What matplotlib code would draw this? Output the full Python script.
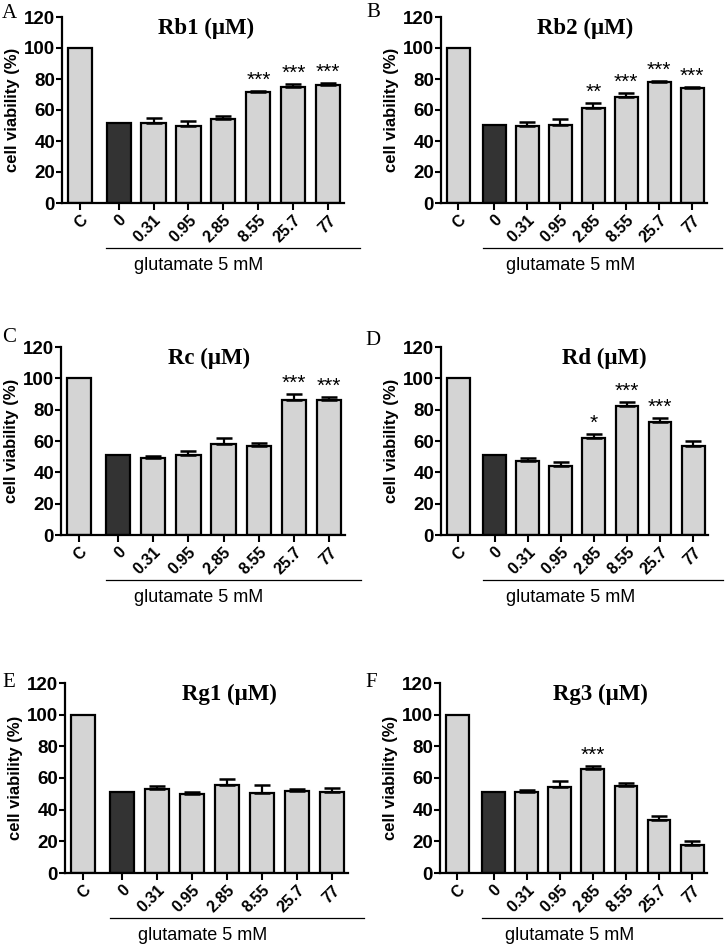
import matplotlib
matplotlib.use('Agg')
import matplotlib.pyplot as plt
import matplotlib.transforms as mtrans

# doses on the x axis (C = control, others with glutamate 5 mM)
doses = ['C', '0', '0.31', '0.95', '2.85', '8.55', '25.7', '77']
letters = ['A', 'B', 'C', 'D', 'E', 'F']
compounds = ['Rb1', 'Rb2', 'Rc', 'Rd', 'Rg1', 'Rg3']

# cell viability (%)
rb1_mean = [100, 51.4, 51.4, 49.7, 54.0, 71.4, 75.0, 76.0]
rb1_err = [0, 0, 3.2, 3.3, 2.4, 1.0, 1.7, 1.6]
rb1_sig = ['', '', '', '', '', '***', '***', '***']

rb2_mean = [100, 50.6, 50.0, 50.6, 61.4, 68.5, 78.2, 74.0]
rb2_err = [0, 0, 2.0, 3.4, 3.2, 2.5, 0.6, 0.8]
rb2_sig = ['', '', '', '', '**', '***', '***', '***']

rc_mean = [100, 51.0, 49.3, 51.0, 58.4, 57.0, 86.0, 86.0]
rc_err = [0, 0, 1.2, 2.7, 3.6, 1.5, 3.8, 2.0]
rc_sig = ['', '', '', '', '', '', '***', '***']

rd_mean = [100, 51.0, 47.4, 44.2, 61.6, 82.2, 72.2, 56.7]
rd_err = [0, 0, 1.9, 2.5, 2.8, 2.8, 2.6, 3.2]
rd_sig = ['', '', '', '', '*', '***', '***', '']

rg1_mean = [100, 51.4, 53.3, 49.7, 55.4, 50.8, 51.9, 51.4]
rg1_err = [0, 0, 1.7, 1.7, 3.9, 4.6, 1.4, 2.1]
rg1_sig = ['', '', '', '', '', '', '', '']

rg3_mean = [100, 51.4, 51.2, 54.4, 65.6, 55.0, 33.2, 18.0]
rg3_err = [0, 0, 1.3, 3.8, 1.7, 1.7, 2.8, 2.1]
rg3_sig = ['', '', '', '', '***', '', '', '']

means = [rb1_mean, rb2_mean, rc_mean, rd_mean, rg1_mean, rg3_mean]
errs = [rb1_err, rb2_err, rc_err, rd_err, rg1_err, rg3_err]
sigs = [rb1_sig, rb2_sig, rc_sig, rd_sig, rg1_sig, rg3_sig]

W, H = 727, 948
fig = plt.figure(figsize=(W / 100, H / 100), dpi=100)

sans = ['Liberation Sans', 'DejaVu Sans']
serif = ['Liberation Serif', 'DejaVu Serif']

# axes boxes in pixels: left, top, right, bottom
boxes = [(62, 17, 344, 203), (441, 17, 707, 203),
         (61, 347, 345, 535), (441, 347, 708, 535),
         (65, 683, 348, 873), (440, 683, 707, 873)]
letter_pos = [(2, 18), (366, 17), (2, 342), (365, 345), (2, 687), (365, 687)]
title_x = [0.51, 0.54, 0.52, 0.61, 0.58, 0.60]

xpos = [0] + [1.1 + i for i in range(7)]
colors = ['#d4d4d4', '#333333'] + ['#d4d4d4'] * 6

for k in range(6):
    l, t, r, b = boxes[k]
    ax = fig.add_axes([l / W, 1 - b / H, (r - l) / W, (b - t) / H])
    mean, err, sig = means[k], errs[k], sigs[k]

    ax.bar(xpos, mean, width=0.69, color=colors, edgecolor='black',
           linewidth=1.6, zorder=2)
    ex = [x for x, e in zip(xpos, err) if e > 0]
    ey = [m for m, e in zip(mean, err) if e > 0]
    ee = [e for e in err if e > 0]
    ax.errorbar(ex, ey, yerr=[[0] * len(ee), ee], fmt='none', ecolor='black',
                elinewidth=1.6, capsize=5.5, capthick=1.8, zorder=3)
    for x, m, e, s in zip(xpos, mean, err, sig):
        if s:
            ax.text(x, m + e + 0.8, s, ha='center', va='bottom',
                    fontsize=15, family=sans)

    ax.set_ylim(0, 120)
    ax.set_xlim(-0.52, 7.55)
    ax.set_yticks([0, 20, 40, 60, 80, 100, 120])
    ax.set_xticks(xpos)
    ax.set_xticklabels(doses, rotation=45, ha='right', rotation_mode='anchor',
                       fontsize=11.5, fontweight='bold', family=sans)
    for lab in ax.get_yticklabels():
        lab.set_fontsize(13.5)
        lab.set_fontweight('bold')
        lab.set_family(sans)
    ax.tick_params(axis='y', length=4, width=1.5, pad=1)
    ax.tick_params(axis='x', length=5, width=1.5, pad=2)
    for side in ['top', 'right']:
        ax.spines[side].set_visible(False)
    for side in ['left', 'bottom']:
        ax.spines[side].set_linewidth(1.6)

    ax.set_ylabel('cell viability (%)', fontsize=12, fontweight='bold',
                  family=sans)
    ax.yaxis.set_label_coords(-42 / (r - l), 0.5)

    ax.text(title_x[k], 0.94, compounds[k] + ' (\u03bcM)', transform=ax.transAxes,
            ha='center', va='center', fontsize=16.5, fontweight='bold',
            family=serif)

    trans = mtrans.blended_transform_factory(ax.transData, ax.transAxes)
    yl = -45 / (b - t)
    ax.plot([0.75, 8.0], [yl, yl], transform=trans, color='black', lw=0.9,
            clip_on=False)
    ax.text(3.4, yl - 17 / (b - t), 'glutamate 5 mM', transform=trans,
            ha='center', va='center', fontsize=13, family=sans)

    fig.text(letter_pos[k][0] / W, 1 - letter_pos[k][1] / H, letters[k],
             ha='left', va='baseline', fontsize=15, family=serif)

fig.savefig('out.png', dpi=100)
